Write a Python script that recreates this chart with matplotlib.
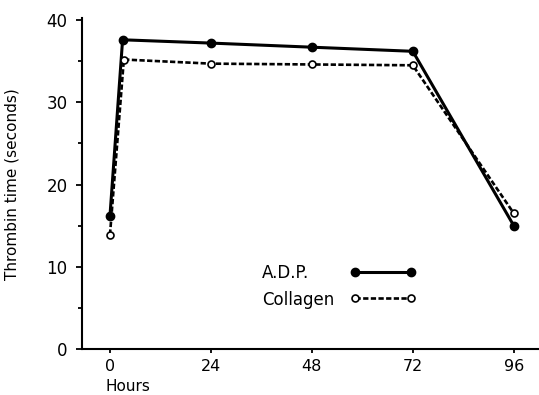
import matplotlib
matplotlib.use("Agg")
import matplotlib.pyplot as plt
from matplotlib.lines import Line2D
import matplotlib.transforms as mtransforms

hours_adp = [0, 3, 24, 48, 72, 96]
adp = [16.2, 37.6, 37.2, 36.7, 36.2, 15.0]
hours_col = [0, 3.3, 24, 48, 72, 96]
collagen = [13.9, 35.2, 34.7, 34.6, 34.5, 16.5]
xticks = [0, 24, 48, 72, 96]
yticks = [0, 10, 20, 30, 40]
yminor = [5, 15, 25, 35]

plt.rcParams['font.family'] = ['DejaVu Sans']

fig = plt.figure(figsize=(5.39, 3.95), dpi=100)
ax = fig.add_axes([82/539, 1 - 349/395, 1 - 82/539, (349 - 18)/395])

ax.plot(hours_adp, adp, color='black', lw=2.2, marker='o', ms=6,
        mfc='black', mec='black', zorder=3)
ax.plot(hours_col, collagen, color='black', lw=1.9, ls=(0, (2, 0.9)), marker='o', ms=5,
        mfc='white', mec='black', mew=1.2, zorder=4)

ax.set_xlim(-6.65, 102)
ax.set_ylim(0, 40.25)
ax.set_xticks(xticks)
ax.set_xticklabels([str(v) for v in xticks])
ax.set_yticks(yticks)
ax.set_yticks(yminor, minor=True)
ax.set_yticklabels([str(v) for v in yticks])
for s in ['top', 'right']:
    ax.spines[s].set_visible(False)
for s in ['left', 'bottom']:
    ax.spines[s].set_linewidth(1.5)
ax.tick_params(axis='y', which='major', direction='out', length=4, width=1.3, pad=6.5, labelsize=12)
ax.tick_params(axis='y', which='minor', direction='out', length=3, width=1.3)
ax.tick_params(axis='x', direction='out', length=3, width=1.3, pad=4, labelsize=11.5)

ax.set_ylabel('Thrombin time (seconds)', fontsize=11)
ax.yaxis.set_label_coords(-0.136, 0.498)

trans = mtransforms.blended_transform_factory(ax.transData, ax.transAxes)
ax.text(-1, -(391 - 349)/331, 'Hours', transform=trans, ha='left', va='baseline', fontsize=11)

# legend: handles drawn by legend, labels as text
h1 = Line2D([], [], color='black', lw=2.2, marker='o', ms=6, mfc='black', mec='black')
h2 = Line2D([], [], color='black', lw=1.9, ls=(0, (2, 0.9)), marker='o', ms=5,
            mfc='white', mec='black', mew=1.2)
leg = ax.legend([h1, h2], [' ', ' '], loc='center left',
                bbox_to_anchor=((350 - 82)/457, (349 - 286)/331),
                frameon=False, numpoints=2, handlelength=3.95, borderpad=0,
                borderaxespad=0, handletextpad=0, fontsize=12, labelspacing=0.45)
ax.text(36.1, 9.3, 'A.D.P.', ha='left', va='center', fontsize=12)
ax.text(36.1, 5.9, 'Collagen', ha='left', va='center', fontsize=12)

fig.savefig('out.png', dpi=100)
